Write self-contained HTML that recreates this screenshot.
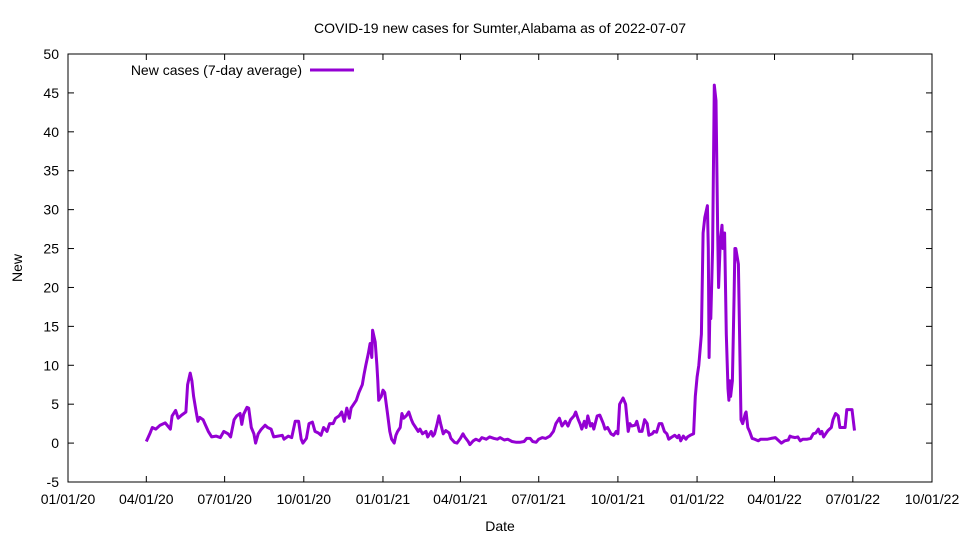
<!DOCTYPE html>
<html><head><meta charset="utf-8"><style>
html,body{margin:0;padding:0;background:#fff}
svg{display:block;font-family:"Liberation Sans",sans-serif}
</style></head><body>
<svg id="chart" width="960" height="540" viewBox="0 0 960 540" xmlns="http://www.w3.org/2000/svg">
<rect width="960" height="540" fill="#fff"/>
<text x="500" y="33" text-anchor="middle" font-size="14">COVID-19 new cases for Sumter,Alabama as of 2022-07-07</text>
<text x="22" y="268" text-anchor="middle" font-size="14" transform="rotate(-90 22 268)">New</text>
<text x="500" y="531" text-anchor="middle" font-size="14">Date</text>
<g id="axes"></g>
<g id="plot"></g>
<g>
<text x="302" y="75" text-anchor="end" font-size="14">New cases (7-day average)</text>
<line x1="310" y1="70" x2="354" y2="70" stroke="#9400d3" stroke-width="3"/>
</g>
</svg>
<script>
const days=[91,95,98,102,107,113,119,121,125,128,132,137,139,142,144,146,149,151,153,157,159,163,167,172,177,181,186,189,193,196,200,202,204,208,210,213,216,218,221,224,229,232,236,239,244,249,251,256,260,264,268,271,273,277,280,284,287,291,294,297,301,304,308,311,315,318,321,324,327,329,332,335,338,342,344,346,349,351,353,354,357,359,360,361,364,366,368,371,374,376,379,381,383,386,388,390,393,396,399,401,404,407,409,412,416,418,422,424,426,429,431,433,436,439,443,445,449,452,456,459,461,465,467,471,474,478,481,486,490,495,499,502,507,511,516,521,525,530,533,537,540,544,547,551,555,560,564,567,571,574,578,581,584,588,590,593,595,597,600,602,604,607,609,611,615,618,622,624,627,631,634,637,639,641,645,648,651,653,655,659,661,664,667,670,673,675,679,681,684,687,690,693,696,698,702,705,708,710,712,715,718,720,723,727,729,731,733,736,738,740,743,744,745,746,747,749,751,753,755,756,758,760,761,763,765,767,768,769,770,772,774,775,776,779,781,782,784,787,788,790,792,795,798,802,805,810,813,817,822,825,829,833,837,839,841,845,848,851,854,859,863,866,869,872,874,876,878,881,883,887,889,892,895,897,901,903,905,911,914];
const cases=[0.2,1.2,2,1.8,2.3,2.6,1.8,3.5,4.2,3.2,3.6,4,7.5,9,8,6,4,2.8,3.3,3,2.5,1.5,0.8,0.9,0.7,1.5,1.2,0.8,3,3.5,3.8,2.4,3.7,4.6,4.5,2,1.2,0,1.2,1.7,2.3,2,1.8,0.8,0.9,1,0.5,0.9,0.7,2.8,2.8,0.5,0,0.6,2.5,2.7,1.5,1.3,1,2,1.5,2.5,2.5,3.2,3.5,4,2.8,4.5,3.2,4.5,5,5.5,6.5,7.5,8.8,10,11.5,12.8,11,14.5,13,10,8,5.5,6,6.8,6.5,4,1.5,0.5,0,1,1.5,2,3.8,3.2,3.5,4,3,2.5,2,1.5,1.8,1.2,1.5,0.8,1.5,0.9,1.2,2.5,3.5,2.5,1.2,1.6,1.3,0.6,0.1,0,0.6,1.2,0.8,0.2,-0.2,0.3,0.5,0.3,0.7,0.5,0.8,0.6,0.5,0.7,0.4,0.5,0.2,0.1,0.1,0.2,0.6,0.6,0.2,0.1,0.5,0.7,0.6,0.9,1.5,2.5,3.2,2.2,2.8,2.2,3,3.5,4,3,2.5,1.8,2.8,2,3.5,2.2,2.5,1.8,3.5,3.6,2.5,1.8,2,1.2,1,1.5,1.2,5,5.8,5,1.5,2.5,2.2,2.3,2.8,1.5,1.5,3,2.5,1,1.2,1.5,1.4,2.5,2.5,1.5,1.2,0.5,0.8,1,0.7,1,0.3,0.9,0.5,0.8,1,1.2,6,8.5,10,14,27,29,30.5,25,11,18,16,25,46,44,27,20,26,28,25,27,14,7,5.5,8,6,8,19,25,25,23,10,3,2.5,3.8,4,2,1.5,0.6,0.5,0.3,0.5,0.5,0.5,0.6,0.7,0.4,0,0.3,0.4,0.9,0.8,0.7,0.8,0.3,0.5,0.5,0.6,1.2,1.3,1.8,1.2,1.5,0.8,1.3,1.6,2,3,3.8,3.5,2,2,2,4.3,4.3,1.6];
const yTicks=[-5,0,5,10,15,20,25,30,35,40,45,50];
const xTickDays=[0,91,182,274,366,456,547,639,731,821,912,1004];
const xTickLabels=["01/01/20","04/01/20","07/01/20","10/01/20","01/01/21","04/01/21","07/01/21","10/01/21","01/01/22","04/01/22","07/01/22","10/01/22"];
const L=68,R=932,T=54,B=482,D0=0,D1=1004,Y0=-5,Y1=50;
const xs=d=>L+(d-D0)/(D1-D0)*(R-L);
const ys=v=>B-(v-Y0)/(Y1-Y0)*(B-T);
const NS="http://www.w3.org/2000/svg";
const axes=document.getElementById('axes');
function mk(tag,attrs,parent){const e=document.createElementNS(NS,tag);for(const k in attrs)e.setAttribute(k,attrs[k]);parent.appendChild(e);return e;}
const frame=mk('rect',{x:L,y:T,width:R-L,height:B-T,fill:'none',stroke:'#000','stroke-width':1},axes);


yTicks.forEach(v=>{const y=ys(v);
 const t1=mk('line',{x1:L,y1:y,x2:L+6,y2:y,stroke:'#000'},axes);
 
 
 const t2=mk('line',{x1:R,y1:y,x2:R-6,y2:y,stroke:'#000'},axes);
 
 
 const tx=mk('text',{x:L-9,y:y+5,'text-anchor':'end','font-size':14},axes);
 
 
 tx.textContent=v;});
xTickDays.forEach((d,i)=>{const x=xs(d);
 const t1=mk('line',{x1:x,y1:B,x2:x,y2:B-6,stroke:'#000'},axes);
 
 
 const t2=mk('line',{x1:x,y1:T,x2:x,y2:T+6,stroke:'#000'},axes);
 
 
 const tx=mk('text',{x:x,y:B+22,'text-anchor':'middle','font-size':14},axes);
 
 
 tx.textContent=xTickLabels[i];});
const pts=days.map((d,i)=>xs(d).toFixed(1)+','+ys(cases[i]).toFixed(1)).join(' ');
const line=mk('polyline',{points:pts,fill:'none',stroke:'#9400d3','stroke-width':3,'stroke-linejoin':'round'},document.getElementById('plot'));


</script>
</body></html>
